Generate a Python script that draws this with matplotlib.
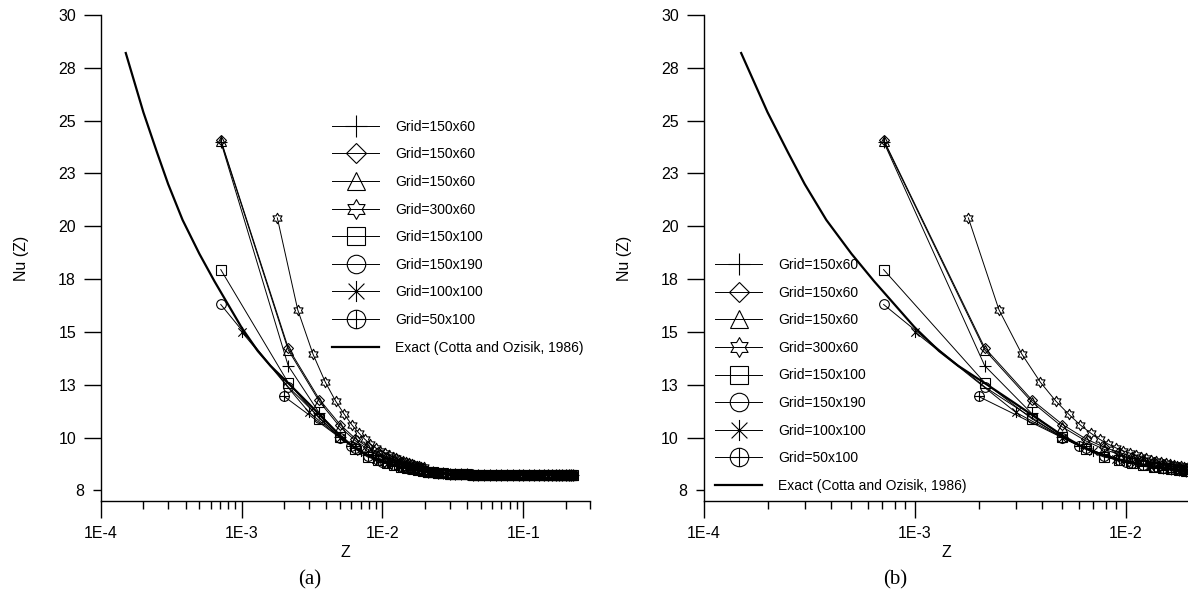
import numpy as np
import matplotlib
matplotlib.use('Agg')
import matplotlib.pyplot as plt
from matplotlib.path import Path
from matplotlib.ticker import FixedLocator, FixedFormatter, LogLocator, NullFormatter, FuncFormatter

plt.rcParams['font.family'] = ['Liberation Sans', 'DejaVu Sans']

# axial positions (cell centres)
z150 = [7.1e-4, 2.14e-3, 3.57e-3, 5.0e-3, 6.43e-3, 7.86e-3, 9.29e-3, 1.07e-2,
        1.21e-2, 1.36e-2, 1.5e-2, 1.64e-2, 1.79e-2, 1.93e-2]
z300 = [1.79e-3, 2.5e-3, 3.21e-3, 3.93e-3, 4.64e-3, 5.36e-3, 6.07e-3, 6.79e-3,
        7.5e-3, 8.21e-3, 8.93e-3, 9.64e-3, 1.04e-2, 1.11e-2, 1.18e-2, 1.25e-2,
        1.32e-2, 1.39e-2, 1.46e-2, 1.54e-2, 1.61e-2, 1.68e-2, 1.75e-2, 1.82e-2,
        1.89e-2, 1.96e-2]
z100 = [1e-3, 3e-3, 5e-3, 7e-3, 9e-3, 1.1e-2, 1.3e-2, 1.5e-2, 1.7e-2, 1.9e-2]
z50 = [2e-3, 6e-3, 1e-2, 1.4e-2, 1.8e-2]

# fully developed part, all grids sit on top of each other
z_tail = [0.021, 0.023, 0.025, 0.027, 0.030, 0.033, 0.036, 0.040, 0.044, 0.048,
          0.053, 0.058, 0.064, 0.070, 0.077, 0.085, 0.093, 0.100, 0.110, 0.120,
          0.130, 0.140, 0.150, 0.160, 0.170, 0.180, 0.190, 0.200, 0.210, 0.220, 0.225]
nu_tail = [8.38, 8.35, 8.33, 8.31, 8.29, 8.28, 8.27, 8.26, 8.25, 8.25,
           8.24, 8.24, 8.24, 8.24, 8.24, 8.24, 8.24, 8.24, 8.24, 8.24,
           8.24, 8.24, 8.24, 8.24, 8.24, 8.24, 8.24, 8.24, 8.24, 8.24, 8.24]

nu_plus = [24.0, 13.4, 11.15, 10.05, 9.5, 9.2, 9.0, 8.85, 8.75, 8.65, 8.58, 8.52, 8.47, 8.43]
nu_diamond = [24.1, 14.25, 11.8, 10.62, 9.95, 9.55, 9.3, 9.1, 8.95, 8.83, 8.74, 8.66, 8.6, 8.54]
nu_triangle = [24.05, 14.15, 11.7, 10.5, 9.85, 9.45, 9.2, 9.02, 8.9, 8.8, 8.7, 8.63, 8.57, 8.52]
nu_star = [20.4, 16.05, 13.95, 12.62, 11.74, 11.1, 10.6, 10.22, 9.92, 9.7, 9.52, 9.38,
           9.27, 9.17, 9.09, 9.02, 8.96, 8.9, 8.85, 8.8, 8.76, 8.72, 8.68, 8.65, 8.62, 8.59]
nu_square = [17.95, 12.6, 10.9, 10.02, 9.45, 9.08, 8.93, 8.8, 8.7, 8.62, 8.55, 8.5, 8.45, 8.41]
nu_circle = [16.3, 12.4, 10.95, 10.0, 9.5, 9.12, 8.95, 8.82, 8.71, 8.63, 8.56, 8.5, 8.46, 8.42]
nu_aster = [15.0, 11.2, 10.0, 9.35, 9.0, 8.8, 8.67, 8.57, 8.5, 8.44]
nu_cross = [11.95, 9.6, 8.85, 8.62, 8.48]

z_exact = [1.5e-4, 1.75e-4, 2e-4, 2.5e-4, 3e-4, 3.8e-4, 5e-4, 6.4e-4, 8e-4, 1e-3,
           1.3e-3, 1.6e-3, 2.2e-3, 3e-3, 4e-3, 5e-3, 6e-3, 7e-3, 8.5e-3, 1e-2,
           1.25e-2, 1.5e-2, 2e-2, 3e-2, 5e-2, 0.1, 0.225]
nu_exact = [28.2, 26.7, 25.4, 23.5, 22.0, 20.3, 18.7, 17.4, 16.3, 15.2,
            14.1, 13.4, 12.5, 11.6, 10.75, 10.1, 9.65, 9.35, 9.05, 8.85,
            8.65, 8.53, 8.4, 8.29, 8.25, 8.24, 8.24]

labels = ['Grid=150x60', 'Grid=150x60', 'Grid=150x60', 'Grid=300x60',
          'Grid=150x100', 'Grid=150x190', 'Grid=100x100', 'Grid=50x100']
exact_label = 'Exact (Cotta and Ozisik, 1986)'

ytick_vals = [10, 12.5, 15, 17.5, 20, 22.5, 25, 27.5, 30]
ytick_text = ['10', '13', '15', '18', '20', '23', '25', '28', '30']

# marker shapes
ang_out = np.deg2rad(90 + 60 * np.arange(6))
ang_in = ang_out + np.deg2rad(30)
hex_pts = []
for a, b in zip(ang_out, ang_in):
    hex_pts.append((np.cos(a), np.sin(a)))
    hex_pts.append((np.cos(b) / np.sqrt(3), np.sin(b) / np.sqrt(3)))
hex_pts.append(hex_pts[0])
hexagram = Path(hex_pts, closed=True)

M, L = Path.MOVETO, Path.LINETO
crosscircle = Path.make_compound_path(
    Path.unit_circle(),
    Path([(-1, 0), (1, 0)], [M, L]),
    Path([(0, -1), (0, 1)], [M, L]))
asterisk = Path([(0, -1), (0, 1), (-0.75, -0.75), (0.75, 0.75), (-0.75, 0.75), (0.75, -0.75)],
                [M, L, M, L, M, L])

series = [
    (z150, nu_plus, '+', 8),
    (z150, nu_diamond, 'D', 5.5),
    (z150, nu_triangle, '^', 7),
    (z300, nu_star, hexagram, 7.5),
    (z150, nu_square, 's', 7),
    (z150, nu_circle, 'o', 7),
    (z100, nu_aster, asterisk, 8),
    (z50, nu_cross, crosscircle, 7),
]


def draw_panel(ax, xmax, leg_anchor):
    for (z, nu, mk, ms), lab in zip(series, labels):
        ax.plot(z + z_tail, nu + nu_tail, color='black', lw=0.7, marker=mk, ms=ms,
                mfc='none', mec='black', mew=0.8, label=lab)
    ax.plot(z_exact, nu_exact, color='black', lw=1.6, label=exact_label)

    ax.set_xscale('log')
    ax.set_xlim(1e-4, xmax)
    ax.set_ylim(7, 30)
    for s in ['top', 'right']:
        ax.spines[s].set_visible(False)
    for s in ['left', 'bottom']:
        ax.spines[s].set_linewidth(1.0)

    ax.xaxis.set_major_locator(LogLocator(base=10, numticks=10))
    ax.xaxis.set_minor_locator(LogLocator(base=10, subs=np.arange(2, 10), numticks=20))
    ax.xaxis.set_major_formatter(FuncFormatter(lambda v, p: '1E%d' % round(np.log10(v))))
    ax.xaxis.set_minor_formatter(NullFormatter())

    ax.yaxis.set_major_locator(FixedLocator(ytick_vals))
    ax.yaxis.set_major_formatter(FixedFormatter(ytick_text))
    ax.yaxis.set_minor_locator(FixedLocator([7.5]))
    ax.yaxis.set_minor_formatter(FixedFormatter(['8']))

    ax.tick_params(which='major', direction='out', length=12, width=1.0, labelsize=11.5, pad=6)
    ax.tick_params(which='minor', direction='out', length=6, width=1.0, labelsize=11.5, pad=6)

    ax.set_xlabel('Z', fontsize=11.5, labelpad=3)
    ax.set_ylabel('Nu (Z)', fontsize=11.5, labelpad=21)

    ax.legend(loc='upper left', bbox_to_anchor=leg_anchor, frameon=False, fontsize=10,
              borderpad=0, borderaxespad=0, handlelength=3.4, handletextpad=1.15,
              labelspacing=0.98, markerscale=1.9)


fig = plt.figure(figsize=(11.88, 5.95), dpi=100)
ax1 = fig.add_axes([101 / 1188, 94 / 595, 489.3 / 1188, 486 / 595])
ax2 = fig.add_axes([704 / 1188, 94 / 595, 485.5 / 1188, 486 / 595])

draw_panel(ax1, 0.3, (0.472, 0.7846))
draw_panel(ax2, 0.02, (0.0227, 0.500))

fig.text(310 / 1188, 1 - 580 / 595, '(a)', family='Liberation Serif', fontsize=15,
         ha='center', va='center')
fig.text(895 / 1188, 1 - 580 / 595, '(b)', family='Liberation Serif', fontsize=15,
         ha='center', va='center')

fig.savefig('out.png', dpi=100)
